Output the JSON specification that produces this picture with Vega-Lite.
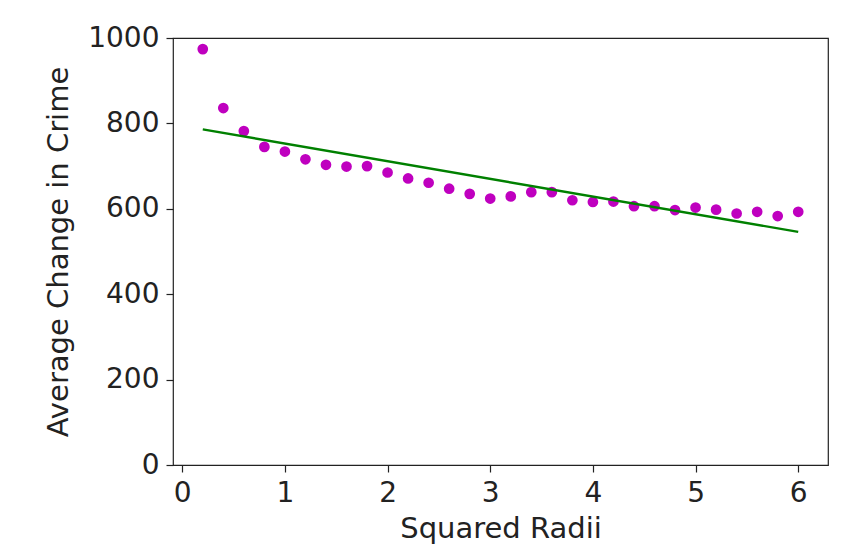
{
  "$schema": "https://vega.github.io/schema/vega-lite/v6.json",
  "width": 655,
  "height": 427,
  "autosize": {"type": "none"},
  "padding": {"left": 173, "top": 38, "right": 32, "bottom": 81},
  "background": "white",
  "config": {
    "view": {"stroke": "#222222", "strokeWidth": 1.2},
    "font": "DejaVu Sans",
    "axis": {
      "grid": false,
      "domain": false,
      "tickColor": "#222222",
      "tickSize": 7,
      "tickWidth": 1.2,
      "labelFont": "DejaVu Sans",
      "labelFontSize": 28,
      "labelColor": "#222222",
      "labelPadding": 7,
      "titleFont": "DejaVu Sans",
      "titleFontSize": 29,
      "titleFontWeight": "normal",
      "titleColor": "#222222"
    }
  },
  "datasets": {
    "points": [
      {"r": 0.2, "crime": 974},
      {"r": 0.4, "crime": 836},
      {"r": 0.6, "crime": 782},
      {"r": 0.8, "crime": 745},
      {"r": 1.0, "crime": 734},
      {"r": 1.2, "crime": 716},
      {"r": 1.4, "crime": 703},
      {"r": 1.6, "crime": 699},
      {"r": 1.8, "crime": 700},
      {"r": 2.0, "crime": 685},
      {"r": 2.2, "crime": 671},
      {"r": 2.4, "crime": 661},
      {"r": 2.6, "crime": 647},
      {"r": 2.8, "crime": 635},
      {"r": 3.0, "crime": 624},
      {"r": 3.2, "crime": 629},
      {"r": 3.4, "crime": 639},
      {"r": 3.6, "crime": 639},
      {"r": 3.8, "crime": 620},
      {"r": 4.0, "crime": 616},
      {"r": 4.2, "crime": 617},
      {"r": 4.4, "crime": 606},
      {"r": 4.6, "crime": 606},
      {"r": 4.8, "crime": 597},
      {"r": 5.0, "crime": 603},
      {"r": 5.2, "crime": 598},
      {"r": 5.4, "crime": 589},
      {"r": 5.6, "crime": 593},
      {"r": 5.8, "crime": 583},
      {"r": 6.0, "crime": 593}
    ],
    "fit": [
      {"r": 0.2, "crime": 786},
      {"r": 6.0, "crime": 546}
    ]
  },
  "layer": [
    {
      "data": {"name": "points"},
      "mark": {"type": "circle", "color": "#bf00bf", "size": 115, "opacity": 1},
      "encoding": {
        "x": {
          "field": "r", "type": "quantitative",
          "scale": {"domain": [-0.09, 6.29], "nice": false, "zero": false},
          "axis": {"values": [0, 1, 2, 3, 4, 5, 6], "format": "d", "title": "Squared Radii", "titlePadding": 7}
        },
        "y": {
          "field": "crime", "type": "quantitative",
          "scale": {"domain": [0, 1000], "nice": false},
          "axis": {"values": [0, 200, 400, 600, 800, 1000], "format": "d", "title": "Average Change in Crime", "titlePadding": 14}
        }
      }
    },
    {
      "data": {"name": "fit"},
      "mark": {"type": "line", "color": "#008000", "strokeWidth": 2.4},
      "encoding": {
        "x": {"field": "r", "type": "quantitative"},
        "y": {"field": "crime", "type": "quantitative"}
      }
    }
  ]
}
